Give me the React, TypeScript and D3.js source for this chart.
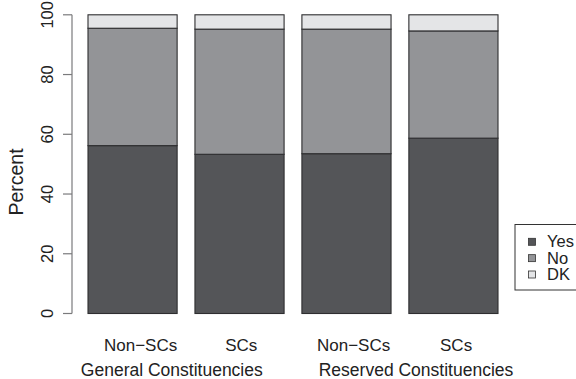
import React from "react";
import * as d3 from "d3";

// Survey responses by group (percent)
const groups = ["Non−SCs", "SCs", "Non−SCs", "SCs"];
const constituencies = ["General Constituencies", "Reserved Constituencies"];
const responses = ["Yes", "No", "DK"];
const yesValues = [56.2, 53.3, 53.5, 58.7];
const noValues = [39.3, 41.9, 41.7, 35.9];
const dkValues = [4.5, 4.8, 4.8, 5.4];
const yTicks = [0, 20, 40, 60, 80, 100];

const fills: Record<string, string> = {
  Yes: "#545558",
  No: "#939497",
  DK: "#e4e5e7",
};

const W = 576;
const H = 379;
const FONT = "'Liberation Sans', Arial, Helvetica, sans-serif";

// bar layout in barplot units: width 1, spacing 0.2
const barWidth = 1;
const barSpace = 0.2;
// label placement shifts (in bar units) relative to bar / pair centres
const labelShift = [0.09, 0.02, 0.08, 0.03];
const groupShift = [-0.16, 0.18];

export default function App() {
  const rows = groups.map((g, i) => ({
    idx: i,
    Yes: yesValues[i],
    No: noValues[i],
    DK: dkValues[i],
  }));
  const stack = d3.stack<any>().keys(responses);
  const series = stack(rows);

  const y = d3.scaleLinear().domain([0, 100]).range([313.5, 14.8]);
  const x = d3.scaleLinear().domain([0.2, 4.8]).range([88, 498]);

  const left = (i: number) => barSpace + i * (barWidth + barSpace);
  const center = (i: number) => left(i) + barWidth / 2;

  const legendStep = 16.35;

  return (
    <svg
      width={W}
      height={H}
      style={{ position: "absolute", left: 0, top: 0, background: "#fff" }}
      fontFamily={FONT}
    >
      {/* stacked bars */}
      {series.map((s) => (
        <g key={s.key}>
          {s.map((d, i) => (
            <rect
              key={i}
              x={x(left(i))}
              width={x(left(i) + barWidth) - x(left(i))}
              y={y(d[1])}
              height={y(d[0]) - y(d[1])}
              fill={fills[s.key]}
              stroke="#2e2e30"
              strokeWidth={1.1}
            />
          ))}
        </g>
      ))}

      {/* y axis */}
      <line x1={72} x2={72} y1={y(0)} y2={y(100)} stroke="#7a7a7c" strokeWidth={1.2} />
      {yTicks.map((t) => (
        <g key={t}>
          <line x1={63} x2={72} y1={y(t)} y2={y(t)} stroke="#7a7a7c" strokeWidth={1.2} />
          <text
            transform={`translate(53,${y(t)}) rotate(-90)`}
            textAnchor="middle"
            fontSize={16.5}
            fill="#222"
          >
            {t}
          </text>
        </g>
      ))}
      <text
        transform={`translate(23,182) rotate(-90)`}
        textAnchor="middle"
        fontSize={19.5}
        fill="#222"
      >
        Percent
      </text>

      {/* category labels */}
      {groups.map((g, i) => (
        <text
          key={i}
          x={x(center(i) + labelShift[i])}
          y={351}
          textAnchor="middle"
          fontSize={17}
          fill="#222"
        >
          {g}
        </text>
      ))}
      {constituencies.map((c, k) => (
        <text
          key={c}
          x={x((center(2 * k) + center(2 * k + 1)) / 2 + groupShift[k])}
          y={375.5}
          textAnchor="middle"
          fontSize={17.5}
          fill="#222"
        >
          {c}
        </text>
      ))}

      {/* legend */}
      <rect x={515} y={224.5} width={80} height={65.5} fill="#fff" stroke="#333" strokeWidth={1} />
      {responses.map((r, i) => (
        <g key={r}>
          <rect
            x={528.5}
            y={238.3 + i * legendStep}
            width={7}
            height={7}
            fill={fills[r]}
            stroke="#333"
            strokeWidth={0.8}
          />
          <text x={547} y={247.3 + i * legendStep} fontSize={16.5} fill="#222">
            {r}
          </text>
        </g>
      ))}
    </svg>
  );
}
